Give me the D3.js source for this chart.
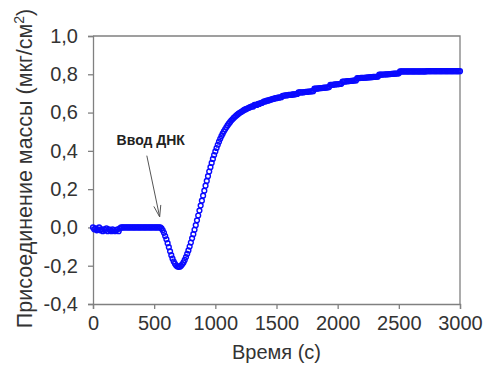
<!DOCTYPE html>
<html>
<head>
<meta charset="utf-8">
<script src="https://cdn.jsdelivr.net/npm/d3@7/dist/d3.min.js"></script>
<style>
  body { margin: 0; background: #fff; }
  text { font-family: "Liberation Sans", Arial, sans-serif; }
</style>
</head>
<body>
<div id="chart-area"></div>
<script>
// measurement times (s), sampled every 10 s
var times = d3.range(0, 3001, 10);

// mass attachment (ug/cm2), one value per time above, rows of 100 s
var mass = [
  0, -0.01, -0.005, -0.015, -0.01, 0, -0.015, -0.01, -0.02, -0.01,
  -0.015, -0.005, -0.02, -0.01, -0.015, -0.02, -0.01, -0.015, -0.02, -0.015,
  -0.01, -0.02, -0.005, 0, 0, 0, 0, 0, 0, 0,
  0, 0, 0, 0, 0, 0, 0, 0, 0, 0,
  0, 0, 0, 0, 0, 0, 0, 0, 0, 0,
  0, 0, 0, 0, 0, 0, -0.005, -0.015, -0.028, -0.045,
  -0.062, -0.082, -0.103, -0.125, -0.145, -0.163, -0.178, -0.19, -0.199, -0.204,
  -0.206, -0.205, -0.2, -0.193, -0.183, -0.17, -0.155, -0.138, -0.12, -0.1,
  -0.079, -0.057, -0.035, -0.012, 0.012, 0.037, 0.062, 0.088, 0.114, 0.14,
  0.166, 0.192, 0.218, 0.243, 0.268, 0.292, 0.315, 0.337, 0.358, 0.378,
  0.397, 0.415, 0.432, 0.448, 0.463, 0.477, 0.49, 0.502, 0.513, 0.523,
  0.533, 0.542, 0.55, 0.558, 0.565, 0.572, 0.578, 0.584, 0.589, 0.594,
  0.599, 0.603, 0.607, 0.611, 0.615, 0.618, 0.621, 0.624, 0.627, 0.63,
  0.632, 0.632, 0.64, 0.64, 0.64, 0.645, 0.645, 0.65, 0.65, 0.655,
  0.658, 0.658, 0.662, 0.662, 0.665, 0.668, 0.668, 0.672, 0.672, 0.675,
  0.675, 0.678, 0.678, 0.68, 0.68, 0.688, 0.688, 0.69, 0.69, 0.69,
  0.692, 0.692, 0.692, 0.695, 0.695, 0.695, 0.697, 0.697, 0.705, 0.705,
  0.705, 0.706, 0.706, 0.707, 0.708, 0.708, 0.71, 0.71, 0.71, 0.712,
  0.712, 0.725, 0.725, 0.725, 0.726, 0.727, 0.728, 0.728, 0.729, 0.73,
  0.73, 0.731, 0.732, 0.733, 0.745, 0.745, 0.745, 0.746, 0.747, 0.748,
  0.748, 0.749, 0.75, 0.75, 0.762, 0.762, 0.762, 0.763, 0.764, 0.764,
  0.765, 0.766, 0.766, 0.767, 0.768, 0.768, 0.78, 0.78, 0.78, 0.781,
  0.781, 0.782, 0.782, 0.783, 0.783, 0.784, 0.784, 0.785, 0.785, 0.786,
  0.786, 0.787, 0.787, 0.788, 0.798, 0.798, 0.798, 0.799, 0.799, 0.8,
  0.8, 0.8, 0.801, 0.801, 0.802, 0.802, 0.803, 0.803, 0.804, 0.804,
  0.805, 0.815, 0.815, 0.815, 0.815, 0.815, 0.815, 0.815, 0.815, 0.815,
  0.815, 0.815, 0.815, 0.815, 0.815, 0.815, 0.815, 0.815, 0.815, 0.815,
  0.815, 0.815, 0.815, 0.816, 0.816, 0.816, 0.816, 0.816, 0.816, 0.816,
  0.816, 0.816, 0.816, 0.816, 0.816, 0.816, 0.816, 0.816, 0.816, 0.816,
  0.816, 0.816, 0.816, 0.816, 0.816, 0.816, 0.816, 0.816, 0.816, 0.816,
  0.816
];

var xTicks = [0, 500, 1000, 1500, 2000, 2500, 3000];
var yTicks = [-0.4, -0.2, 0, 0.2, 0.4, 0.6, 0.8, 1.0];

var data = times.map(function(t, i) { return {t: t, v: mass[i]}; });

var margin = {top: 36, right: 23, bottom: 70, left: 93},
    width = 483 - margin.left - margin.right,
    height = 374 - margin.top - margin.bottom;

var svg = d3.select("#chart-area")
  .append("svg")
    .attr("width", 483)
    .attr("height", 374)
  .append("g")
    .attr("transform", "translate(" + margin.left + "," + margin.top + ")");

var x = d3.scaleLinear().domain([0, 3000]).range([0, width]);
var y = d3.scaleLinear().domain([-0.4, 1.0]).range([height, 0]);

var axisColor = "#808080";

// box top and right
svg.append("path")
  .attr("d", "M0,0H" + width + "V" + height)
  .attr("fill", "none")
  .attr("stroke", axisColor)
  .attr("stroke-width", 1.3);

var xAxis = svg.append("g")
  .attr("transform", "translate(0," + height + ")")
  .call(d3.axisBottom(x).tickValues(xTicks).tickSize(5).tickPadding(7)
    .tickFormat(d3.format("d")));

var yAxis = svg.append("g")
  .call(d3.axisLeft(y).tickValues(yTicks).tickSize(5).tickPadding(10)
    .tickFormat(function(d) { return d3.format(".1f")(d).replace(".", ",").replace("−", "-"); }));

[xAxis, yAxis].forEach(function(a) {
  a.select(".domain").attr("stroke", axisColor).attr("stroke-width", 1.3);
  a.selectAll(".tick line").attr("stroke", axisColor).attr("stroke-width", 1.3);
  a.selectAll(".tick text")
    .attr("fill", "#333")
    .attr("font-size", "20px")
    .attr("font-family", "Liberation Sans, Arial, sans-serif");
});

// axis labels
svg.append("text")
  .attr("x", width / 2)
  .attr("y", height + 55)
  .attr("text-anchor", "middle")
  .attr("font-size", "20px")
  .attr("fill", "#333")
  .text("Время (с)");

var ylab = svg.append("text")
  .attr("transform", "rotate(-90)")
  .attr("x", -132.5)
  .attr("y", -61)
  .attr("text-anchor", "middle")
  .attr("font-size", "21.5px")
  .attr("fill", "#333");
ylab.append("tspan").text("Присоединение массы (мкг/см");
ylab.append("tspan").attr("dy", -8).attr("font-size", "14px").text("2");
ylab.append("tspan").attr("dy", 8).text(")");

// data points
svg.append("g")
  .selectAll("circle")
  .data(data)
  .enter()
  .append("circle")
    .attr("cx", function(d) { return x(d.t); })
    .attr("cy", function(d) { return y(d.v); })
    .attr("r", 2.4)
    .attr("fill", "none")
    .attr("stroke", "#0a0aff")
    .attr("stroke-width", 1.4);

// annotation
svg.append("text")
  .attr("x", x(193))
  .attr("y", y(0.4) - 6)
  .attr("font-size", "14px")
  .attr("font-weight", "bold")
  .attr("fill", "#222")
  .text("Ввод ДНК");

var ax0 = [x(440), y(0.375)], ax1 = [x(545), y(0.055)];
svg.append("line")
  .attr("x1", ax0[0]).attr("y1", ax0[1])
  .attr("x2", ax1[0]).attr("y2", ax1[1])
  .attr("stroke", "#555").attr("stroke-width", 1);
var ang = Math.atan2(ax1[1] - ax0[1], ax1[0] - ax0[0]);
[-0.3, 0.3].forEach(function(da) {
  svg.append("line")
    .attr("x1", ax1[0]).attr("y1", ax1[1])
    .attr("x2", ax1[0] - 12 * Math.cos(ang + da))
    .attr("y2", ax1[1] - 12 * Math.sin(ang + da))
    .attr("stroke", "#555").attr("stroke-width", 1);
});
</script>
</body>
</html>
